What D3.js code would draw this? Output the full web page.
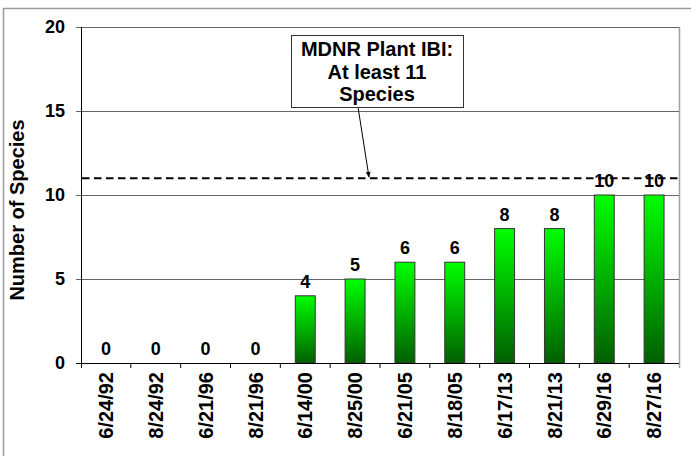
<!DOCTYPE html>
<html>
<head>
<meta charset="utf-8">
<script src="https://cdn.jsdelivr.net/npm/d3@7"></script>
<style>
  html, body { margin: 0; padding: 0; background: #fff; }
  svg { display: block; font-family: Arial, "Liberation Sans", sans-serif; }
</style>
</head>
<body>
<svg id="chart" width="691" height="456"></svg>
<script>
// Sampling dates and number of plant species found on each survey
const dates = ["6/24/92", "8/24/92", "6/21/96", "8/21/96", "6/14/00", "8/25/00",
               "6/21/05", "8/18/05", "6/17/13", "8/21/13", "6/29/16", "8/27/16"];
const species = [0, 0, 0, 0, 4, 5, 6, 6, 8, 8, 10, 10];
const yTicks = [0, 5, 10, 15, 20];
const targetValue = 11;
const targetNote = ["MDNR Plant IBI:", "At least 11", "Species"];
const yTitle = "Number of Species";

const svg = d3.select("#chart");
const W = 691, H = 456;
const plotL = 81, plotR = 679, plotT = 27, plotB = 363;

// Frame around the chart
svg.append("path")
  .attr("d", `M3.5,${H} V8.5 H${W}`)
  .attr("fill", "none").attr("stroke", "#9a9a9a").attr("stroke-width", 1.5);

const x = d3.scaleBand().domain(dates).range([plotL, plotR])
  .paddingInner(0.6).paddingOuter(0.3);
const y = d3.scaleLinear().domain([0, 20]).range([plotB, plotT]);

// Bar gradient: bright green at top fading to dark green
const defs = svg.append("defs");
const grad = defs.append("linearGradient").attr("id", "barFill")
  .attr("x1", 0).attr("y1", 0).attr("x2", 0).attr("y2", 1);
grad.append("stop").attr("offset", 0).attr("stop-color", "#00ff00");
grad.append("stop").attr("offset", 1).attr("stop-color", "#005f00");

const marker = defs.append("marker").attr("id", "arrowHead")
  .attr("viewBox", "0 0 10 10").attr("refX", 9).attr("refY", 5)
  .attr("markerWidth", 6).attr("markerHeight", 6)
  .attr("markerUnits", "userSpaceOnUse").attr("orient", "auto");
marker.append("path").attr("d", "M0,1 L10,5 L0,9 Z").attr("fill", "#000");

// Horizontal gridlines + y axis
const yAxis = d3.axisLeft(y).tickValues(yTicks)
  .tickSize(-(plotR - plotL)).tickSizeOuter(0).tickPadding(16);
const gy = svg.append("g").attr("transform", `translate(${plotL},0)`).call(yAxis);
gy.select(".domain").remove();
gy.selectAll(".tick line")
  .attr("x1", -5).attr("stroke", "#666").attr("stroke-width", 1);
gy.selectAll(".tick text")
  .attr("font-size", 18).attr("font-weight", "bold").attr("fill", "#000")
  .attr("font-family", "Arial, 'Liberation Sans', sans-serif");

// Right edge of the plot area
svg.append("line").attr("x1", plotR + 0.5).attr("x2", plotR + 0.5)
  .attr("y1", plotT).attr("y2", plotB + 5)
  .attr("stroke", "#a0a0a0").attr("stroke-width", 1.5);

// Bars
svg.append("g").selectAll("rect").data(species).join("rect")
  .attr("x", (d, i) => x(dates[i]))
  .attr("y", d => y(d))
  .attr("width", x.bandwidth())
  .attr("height", d => y(0) - y(d))
  .attr("fill", "url(#barFill)")
  .attr("stroke", "#333").attr("stroke-width", 1);

// Target line
svg.append("line")
  .attr("x1", plotL + 1).attr("x2", plotR)
  .attr("y1", y(targetValue)).attr("y2", y(targetValue))
  .attr("stroke", "#000").attr("stroke-width", 2)
  .attr("stroke-dasharray", "7.5,4.5");

// Value labels
svg.append("g").selectAll("text").data(species).join("text")
  .attr("x", (d, i) => x(dates[i]) + x.bandwidth() / 2)
  .attr("y", d => y(d) - 8)
  .attr("text-anchor", "middle")
  .attr("font-size", 18).attr("font-weight", "bold").attr("fill", "#000")
  .text(d => d);

// X axis with ticks between categories
const xAxis = d3.axisBottom(x).tickSize(0).tickSizeOuter(0).tickPadding(0);
const gx = svg.append("g").attr("transform", `translate(0,${plotB})`).call(xAxis);
gx.select(".domain").attr("d", `M${plotL - 5},0.5 H${plotR}`)
  .attr("stroke", "#000").attr("stroke-width", 1);
gx.selectAll(".tick text")
  .attr("transform", "rotate(-90)")
  .attr("x", -9).attr("y", 0).attr("dy", "0.36em")
  .attr("text-anchor", "end")
  .attr("font-size", 20).attr("font-weight", "bold").attr("fill", "#000")
  .attr("font-family", "Arial, 'Liberation Sans', sans-serif");
const step = x.step();
svg.append("g").selectAll("line").data(d3.range(1, dates.length)).join("line")
  .attr("x1", k => plotL + k * step).attr("x2", k => plotL + k * step)
  .attr("y1", plotB).attr("y2", plotB + 5)
  .attr("stroke", "#000").attr("stroke-width", 1);

// Y axis line
svg.append("line").attr("x1", plotL + 0.5).attr("x2", plotL + 0.5)
  .attr("y1", plotT).attr("y2", plotB + 5)
  .attr("stroke", "#000").attr("stroke-width", 1);

// Y axis title
svg.append("text")
  .attr("transform", `translate(24,${(plotT + plotB) / 2 + 15}) rotate(-90)`)
  .attr("text-anchor", "middle")
  .attr("font-size", 20).attr("font-weight", "bold").attr("fill", "#000")
  .text(yTitle);

// Callout box with arrow to the target line
const box = { x: 291, y: 35, w: 172, h: 72 };
svg.append("line")
  .attr("x1", 358).attr("y1", box.y + box.h)
  .attr("x2", 369).attr("y2", y(targetValue) - 1)
  .attr("stroke", "#000").attr("stroke-width", 1)
  .attr("marker-end", "url(#arrowHead)");
svg.append("rect")
  .attr("x", box.x + 0.5).attr("y", box.y + 0.5)
  .attr("width", box.w).attr("height", box.h)
  .attr("fill", "#fff").attr("stroke", "#333").attr("stroke-width", 1);
svg.append("text")
  .attr("text-anchor", "middle")
  .attr("font-size", 20).attr("font-weight", "bold").attr("fill", "#000")
  .selectAll("tspan").data(targetNote).join("tspan")
  .attr("x", box.x + box.w / 2)
  .attr("y", (d, i) => 56 + i * 22.5)
  .text(d => d);
</script>
</body>
</html>
